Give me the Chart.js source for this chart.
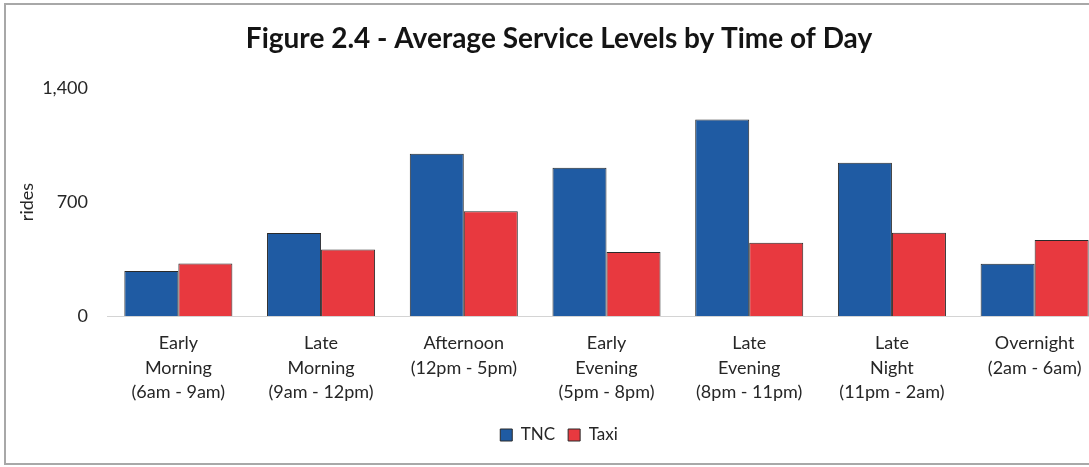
<!DOCTYPE html>
<html lang="en">
<head>
  <meta charset="UTF-8"/>
  <title>Average Service Levels by Time of Day</title>
  <script src="https://cdn.jsdelivr.net/npm/chart.js"></script>
  <style>
    html, body { margin: 0; padding: 0; background: #fff; overflow: hidden; }
    #frame {
      position: absolute; left: 4px; top: 3px;
      width: 1104px; height: 458px;
      border: 2px solid #a8a8a8; border-right: none;
      background: #fff;
    }
    #frame canvas { display: block; }
  </style>
</head>
<body>
  <div id="frame">
    <canvas id="serviceChart" width="1104" height="458"></canvas>
  </div>
  <script>
    // time-of-day buckets (multi-line axis labels)
    const periods = [
      ['Early', 'Morning', '(6am - 9am)'],
      ['Late', 'Morning', '(9am - 12pm)'],
      ['Afternoon', '(12pm - 5pm)'],
      ['Early', 'Evening', '(5pm - 8pm)'],
      ['Late', 'Evening', '(8pm - 11pm)'],
      ['Late', 'Night', '(11pm - 2am)'],
      ['Overnight', '(2am - 6am)']
    ];
    // average rides per period
    const tncRides  = [276, 510, 997, 910, 1207, 941, 321];
    const taxiRides = [323, 409, 643, 393, 450, 511, 466];
    const yTicks = [0, 700, 1400];

    const font = 'Lato, "Open Sans", Arial, sans-serif';
    const textColor = '#262626';

    new Chart(document.getElementById('serviceChart').getContext('2d'), {
      type: 'bar',
      data: {
        labels: periods,
        datasets: [
          {
            label: 'TNC',
            data: tncRides,
            backgroundColor: '#1F5BA3',
            borderColor: '#2a2a2a',
            borderWidth: 1
          },
          {
            label: 'Taxi',
            data: taxiRides,
            backgroundColor: '#E8393F',
            borderColor: '#2a2a2a',
            borderWidth: 1
          }
        ]
      },
      options: {
        responsive: false,
        animation: false,
        devicePixelRatio: 1,
        layout: { padding: { left: 6, right: 4, top: 0, bottom: 9.5 } },
        datasets: {
          bar: { categoryPercentage: 0.757, barPercentage: 1.0 }
        },
        plugins: {
          title: {
            display: true,
            text: 'Figure 2.4 - Average Service Levels by Time of Day',
            color: '#141414',
            font: { family: font, size: 28, weight: 'bold', lineHeight: 1.2 },
            padding: { top: 17.5, bottom: 31.9 }
          },
          legend: {
            position: 'bottom',
            labels: {
              boxWidth: 12,
              boxHeight: 12,
              padding: 13,
              color: textColor,
              font: { family: font, size: 17 }
            }
          },
          tooltip: { enabled: false }
        },
        scales: {
          x: {
            grid: { display: false, drawTicks: false },
            border: { display: true, color: '#d4d4d4', width: 1 },
            ticks: {
              autoSkip: false,
              maxRotation: 0,
              padding: 15,
              color: textColor,
              font: { family: font, size: 18, lineHeight: 1.36 }
            },
            afterFit: scale => { scale.height = 97.5; }
          },
          y: {
            min: yTicks[0],
            max: yTicks[yTicks.length - 1],
            afterBuildTicks: scale => { scale.ticks = yTicks.map(v => ({ value: v })); },
            grid: { display: false, drawTicks: false },
            border: { display: false },
            ticks: {
              padding: 19,
              color: textColor,
              font: { family: font, size: 18 }
            },
            title: {
              display: true,
              text: 'rides',
              color: textColor,
              font: { family: font, size: 18, lineHeight: 1.2 },
              padding: { top: 4, bottom: 0 }
            },
            afterFit: scale => { scale.width = 95; }
          }
        }
      }
    });
  </script>
</body>
</html>
